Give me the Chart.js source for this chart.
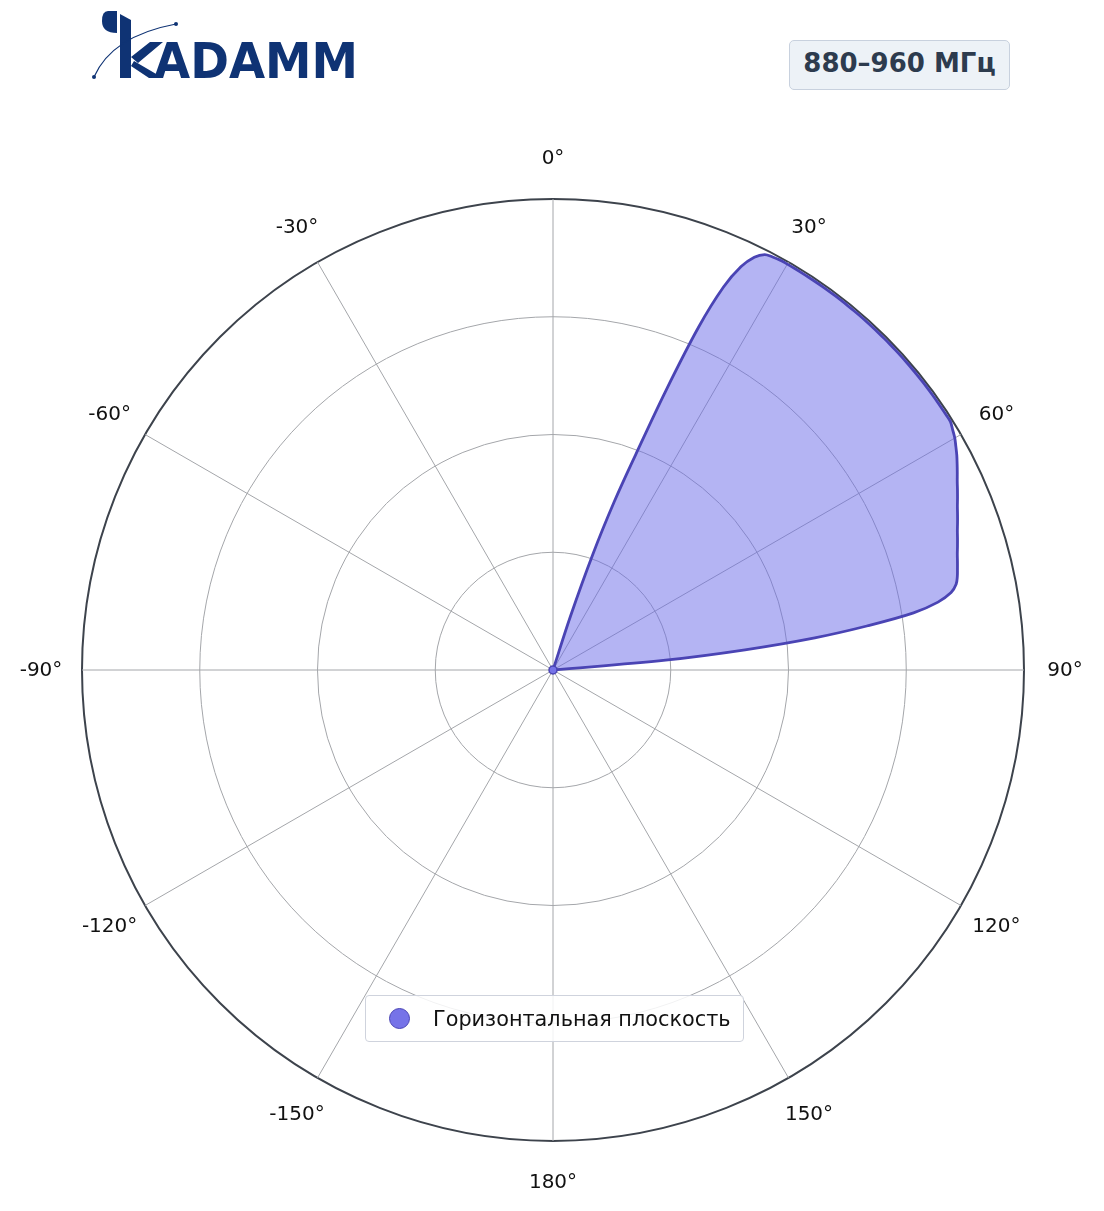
<!DOCTYPE html>
<html>
<head>
<meta charset="utf-8">
<script src="https://cdn.jsdelivr.net/npm/chart.js@4.4.1/dist/chart.umd.min.js"></script>
<style>
html,body{margin:0;padding:0;background:#fff;overflow:hidden;}
#wrap{position:relative;width:1104px;height:1211px;font-family:"DejaVu Sans",sans-serif;}
#chart{position:absolute;left:0;top:0;}
#logo{position:absolute;left:80px;top:0;}
#band{position:absolute;left:789px;top:40px;width:221px;height:50px;box-sizing:border-box;
  border:1.5px solid #c8d1de;border-radius:5px;background:#edf2f7;color:#2d3b4e;
  font-weight:bold;font-size:26px;display:flex;align-items:center;justify-content:center;padding-bottom:4px;}
#legend{position:absolute;left:365px;top:995px;width:379px;height:47px;box-sizing:border-box;
  border:1.5px solid #cfd3dd;border-radius:4px;background:rgba(255,255,255,0.85);
  display:flex;align-items:center;}
#legend .swatch{width:21px;height:21px;border-radius:50%;margin-left:23px;box-sizing:border-box;}
#legend .lbl{margin-left:23px;font-size:20.8px;color:#111;white-space:nowrap;}
</style>
</head>
<body>
<div id="wrap">
  <canvas id="chart" width="1104" height="1211"></canvas>
  <svg id="logo" width="290" height="90" viewBox="80 0 290 90">
    <path d="M117 11 H108 Q102 11 102 21 Q102 33 117 33 Z" fill="#0f3374"/>
    <path d="M120 14 L131 20 L131 78 L120 78 Z" fill="#0f3374"/>
    <path d="M131 57 L150 42 L163 42 L138 63 Z M134 61 L163 78 L149 78 L131 66 Z" fill="#0f3374"/>
    <path d="M94 77 Q112 36 176 24" fill="none" stroke="#0f3374" stroke-width="1.2"/>
    <circle cx="94" cy="77" r="2" fill="#0f3374"/>
    <circle cx="176" cy="24" r="2" fill="#0f3374"/>
    <text x="154" y="78" font-family="DejaVu Sans" font-weight="bold" font-size="49"
      textLength="204" lengthAdjust="spacingAndGlyphs" fill="#0f3374">ADAMM</text>
  </svg>
  <div id="band">880–960 МГц</div>
  <div id="legend"></div>
</div>
<script>
// ====== data ======
const seriesName = 'Горизонтальная плоскость';
const angleTicks = [0, 30, 60, 90, 120, 150, 180, 210, 240, 270, 300, 330];
const angleTickLabels = ['0°', '30°', '60°', '90°', '120°', '150°', '180°', '-150°', '-120°', '-90°', '-60°', '-30°'];
const ringValues = [0.25, 0.5, 0.75, 1];

// lobe of the horizontal pattern, degrees clockwise from 0° and normalized level
const lobeAngles = [17, 18, 19, 20, 21, 22, 23, 24, 25, 26, 27, 28, 29, 30, 31, 32, 33, 34, 35, 36,
  37, 38, 39, 40, 41, 42, 43, 44, 45, 46, 47, 48, 49, 50, 51, 52, 53, 54, 55, 56,
  57, 58, 59, 60, 61, 62, 63, 64, 65, 66, 67, 68, 69, 70, 71, 72, 73, 74, 75, 76,
  77, 78, 79, 80, 81, 82, 83, 84, 85, 86];
const lobeLevel = [0, 0.12, 0.26, 0.38, 0.49, 0.64, 0.79, 0.89, 0.945, 0.975, 0.99, 0.993, 0.995, 0.995, 0.995, 0.995, 0.995, 0.995, 0.995, 0.995,
  0.995, 0.995, 0.995, 0.995, 0.995, 0.995, 0.995, 0.995, 0.995, 0.995, 0.995, 0.995, 0.995, 0.995, 0.995, 0.995, 0.995, 0.995, 0.995, 0.995,
  0.995, 0.995, 0.99, 0.985, 0.978, 0.971, 0.963, 0.955, 0.947, 0.94, 0.933, 0.926, 0.92, 0.914, 0.908, 0.903, 0.898, 0.893, 0.889, 0.885,
  0.881, 0.875, 0.861, 0.83, 0.775, 0.675, 0.56, 0.41, 0.24, 0];

// ====== colours ======
const lineColor = '#4a44b4';
const fillColor = 'rgba(106,106,232,0.5)';
const markerColor = '#7673e8';
const gridColor = '#a4a6aa';
const rimColor = '#3d434c';

// one label slot per degree, only every 30° gets text
const labels = [];
for (let i = 0; i < 360; i++) {
  const k = angleTicks.indexOf(i);
  labels.push(k >= 0 ? angleTickLabels[k] : '');
}
const values = new Array(360).fill(null);
lobeAngles.forEach((a, i) => { values[a] = lobeLevel[i]; });

// angle labels centered a fixed distance outside the rim
const angleLabelPlugin = {
  id: 'angleLabels',
  afterDraw(chart) {
    const scale = chart.scales.r;
    const ctx = chart.ctx;
    ctx.save();
    ctx.font = '20px "DejaVu Sans"';
    ctx.fillStyle = '#111';
    ctx.textAlign = 'center';
    ctx.textBaseline = 'middle';
    chart.data.labels.forEach((lab, i) => {
      if (!lab) return;
      const p = scale.getPointPosition(i, scale.drawingArea + 41);
      ctx.fillText(lab, p.x, p.y + 1);
    });
    ctx.restore();
  }
};

const chart = new Chart(document.getElementById('chart'), {
  type: 'radar',
  data: {
    labels,
    datasets: [{
      label: seriesName,
      data: values,
      spanGaps: true,
      borderColor: lineColor,
      borderWidth: 2.8,
      backgroundColor: fillColor,
      fill: 'origin',
      tension: 0.35,
      pointRadius: c => c.dataIndex === lobeAngles[0] ? 4 : 0,
      pointBackgroundColor: markerColor,
      pointBorderColor: lineColor,
      pointBorderWidth: 1.5
    }]
  },
  options: {
    responsive: false,
    devicePixelRatio: 1,
    animation: false,
    layout: { padding: { left: 82, right: 80, top: 199, bottom: 70 } },
    scales: {
      r: {
        min: 0,
        max: ringValues[ringValues.length - 1],
        ticks: { display: false, stepSize: ringValues[0] },
        grid: {
          circular: true,
          color: c => c.index === ringValues.length ? rimColor : gridColor,
          lineWidth: c => c.index === ringValues.length ? 2 : 1
        },
        angleLines: {
          color: gridColor,
          lineWidth: c => (c.index % 30 === 0 ? 1 : 0)
        },
        pointLabels: { display: false }
      }
    },
    plugins: {
      legend: { display: false },
      tooltip: { enabled: false }
    }
  },
  plugins: [angleLabelPlugin]
});

// html legend from the dataset
const legendEl = document.getElementById('legend');
chart.data.datasets.forEach(ds => {
  const sw = document.createElement('div');
  sw.className = 'swatch';
  sw.style.background = ds.pointBackgroundColor;
  sw.style.border = '1.5px solid ' + ds.borderColor;
  const lb = document.createElement('div');
  lb.className = 'lbl';
  lb.textContent = ds.label;
  legendEl.appendChild(sw);
  legendEl.appendChild(lb);
});
</script>
</body>
</html>
